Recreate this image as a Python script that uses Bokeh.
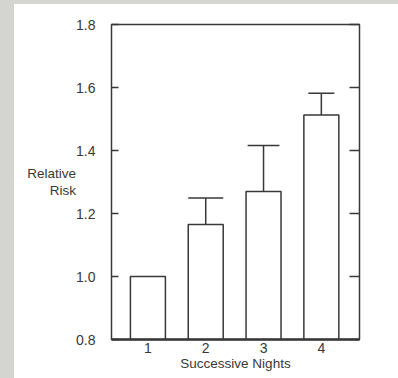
from bokeh.plotting import figure
from bokeh.models import Range1d, LinearAxis, FixedTicker
from bokeh.embed import file_html
from bokeh.resources import INLINE

# ---- data ----
nights = [1, 2, 3, 4]
x_tick_labels = ["1", "2", "3", "4"]
relative_risk = [1.0, 1.165, 1.27, 1.513]
upper_ci = [1.0, 1.249, 1.416, 1.582]
y_ticks = [0.8, 1.0, 1.2, 1.4, 1.6, 1.8]
y_tick_labels = ["0.8", "1.0", "1.2", "1.4", "1.6", "1.8"]
x_title = "Successive Nights"
y_title = "Relative\nRisk"

# ---- style ----
INK = "#383838"
GRAY = "#d4d4d0"
FONT = "Liberation Sans"
FS = "14px"
X0, X1 = 0.37, 4.66
Y0, Y1 = 0.8, 1.8
bar_width = 0.605
cap_width = [0.0, 0.605, 0.55, 0.45]

p = figure(width=384, height=374, output_backend="svg", toolbar_location=None,
           x_range=Range1d(X0, X1), y_range=Range1d(Y0, Y1),
           min_border_left=97, min_border_right=53, min_border_top=20,
           min_border_bottom=43, x_axis_location=None, y_axis_location=None)
p.styles = {"box-sizing": "content-box",
            "border-left": "14px solid " + GRAY, "border-top": "4px solid " + GRAY}
p.grid.visible = False
p.outline_line_color = INK
p.outline_line_width = 1.5
p.background_fill_color = "white"
p.border_fill_color = "white"

# left axis
ly = LinearAxis(ticker=FixedTicker(ticks=y_ticks),
                major_label_overrides={t: l for t, l in zip(y_ticks, y_tick_labels)})
ly.axis_line_color = None
ly.major_tick_in = 7
ly.major_tick_out = 0
ly.major_tick_line_color = INK
ly.major_tick_line_width = 1.5
ly.minor_tick_line_color = None
ly.major_label_standoff = 16
ly.major_label_text_font = FONT
ly.major_label_text_font_size = FS
ly.major_label_text_color = INK
ly.axis_label = y_title
ly.axis_label_orientation = "horizontal"
ly.axis_label_standoff = -3
ly.axis_label_text_font = FONT
ly.axis_label_text_font_size = "13.5px"
ly.axis_label_text_font_style = "normal"
ly.axis_label_text_color = INK
ly.axis_label_text_align = "left"
ly.axis_label_text_line_height = 1.15
p.add_layout(ly, "left")

# right axis (ticks only)
ry = LinearAxis(ticker=FixedTicker(ticks=y_ticks))
ry.axis_line_color = None
ry.major_tick_in = 10
ry.major_tick_out = 0
ry.major_tick_line_color = INK
ry.major_tick_line_width = 1.5
ry.minor_tick_line_color = None
ry.major_label_text_color = None
ry.major_label_text_font_size = "1px"
p.add_layout(ry, "right")

# bottom axis
bx = LinearAxis(ticker=FixedTicker(ticks=nights),
                major_label_overrides={n: l for n, l in zip(nights, x_tick_labels)})
bx.axis_line_color = INK
bx.axis_line_width = 2.5
bx.major_tick_line_color = None
bx.minor_tick_line_color = None
bx.major_tick_out = 0
bx.major_label_standoff = 3
bx.major_label_text_font = FONT
bx.major_label_text_font_size = FS
bx.major_label_text_color = INK
bx.axis_label = x_title
bx.axis_label_standoff = 0
bx.axis_label_text_font = FONT
bx.axis_label_text_font_size = "13.5px"
bx.axis_label_text_font_style = "normal"
bx.axis_label_text_color = INK
p.add_layout(bx, "below")

# bars
p.vbar(x=nights, top=relative_risk, bottom=Y0, width=bar_width,
       fill_color="white", line_color=INK, line_width=1.5)

# error bars
err_x = [n for n, lo, hi in zip(nights, relative_risk, upper_ci) if hi > lo]
err_lo = [lo for lo, hi in zip(relative_risk, upper_ci) if hi > lo]
err_hi = [hi for lo, hi in zip(relative_risk, upper_ci) if hi > lo]
err_w = [w for w, lo, hi in zip(cap_width, relative_risk, upper_ci) if hi > lo]
p.segment(x0=err_x, y0=err_lo, x1=err_x, y1=err_hi, line_color=INK, line_width=1.5)
p.segment(x0=[x - w / 2 for x, w in zip(err_x, err_w)], y0=err_hi,
          x1=[x + w / 2 for x, w in zip(err_x, err_w)], y1=err_hi,
          line_color=INK, line_width=1.5)

open("out.html", "w").write(file_html(p, INLINE))
